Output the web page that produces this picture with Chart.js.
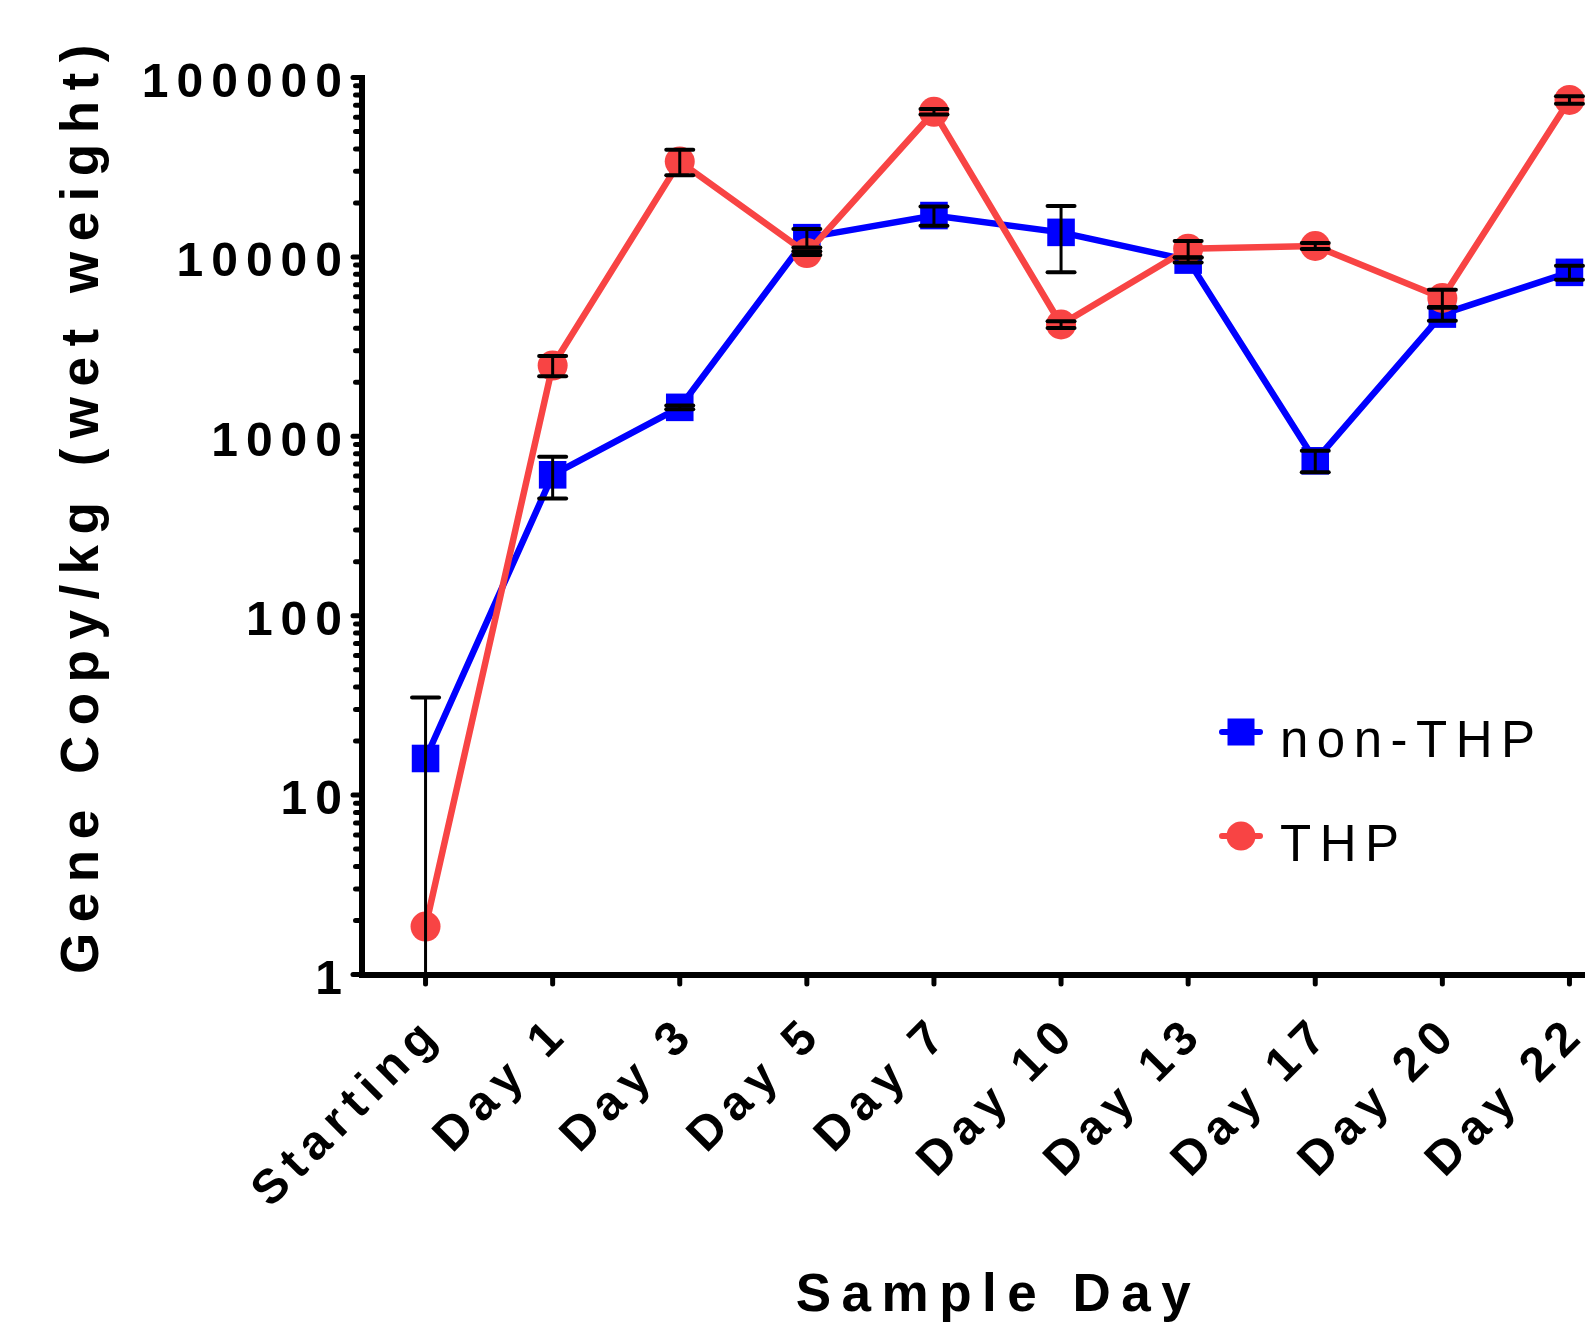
<!DOCTYPE html>
<html><head><meta charset="utf-8">
<script src="https://cdn.jsdelivr.net/npm/chart.js@4.4.0/dist/chart.umd.min.js"></script>
<style>
html,body{margin:0;padding:0;background:#fff;overflow:hidden;width:1585px;height:1325px}
canvas{display:block}
</style></head>
<body>
<canvas id="c" width="1700" height="1325" style="width:1700px;height:1325px"></canvas>
<script>
const categories = ["Starting","Day 1","Day 3","Day 5","Day 7","Day 10","Day 13","Day 17","Day 20","Day 22"];
const nonTHP    = [16, 610, 1450, 12800, 17000, 13700, 9600, 730, 4800, 8200];
const nonTHPErr = [19, 160, 35, 1500, 2100, 5500, 300, 100, 400, 730];
const THP       = [1.85, 2480, 34000, 10500, 64400, 4200, 11100, 11500, 5900, 75000];
const THPErr    = [0, 320, 5500, 250, 2300, 180, 1150, 440, 650, 3700];
const yTickLabels = ["1","10","100","1000","10000","100000"];
const seriesNames = ["non-THP","THP"];
const yTitle = "Gene Copy/kg (wet weight)";
const xTitle = "Sample Day";

const BLUE = "#0000FF", RED = "#F84444";
const majorVals = yTickLabels.map(Number);
const yTickVals = [];
majorVals.forEach((m, i) => {
  yTickVals.push(m);
  if (i < majorVals.length - 1) for (let k = 2; k <= 9; k++) yTickVals.push(m * k);
});
const errs = [nonTHPErr, THPErr];

const FONT = '"Liberation Sans", Arial, sans-serif';

const styling = {
  id: 'styling',
  beforeDraw(chart) { chart.ctx.letterSpacing = '8px'; },
  afterDatasetsDraw(chart) {
    const ctx = chart.ctx, ys = chart.scales.y, area = chart.chartArea;
    ctx.save();
    ctx.strokeStyle = '#000';
    [0, 1].forEach(d => {
      const meta = chart.getDatasetMeta(d);
      const data = chart.data.datasets[d].data;
      meta.data.forEach((pt, i) => {
        const v = data[i], e = errs[d][i];
        if (!e) return;
        const x = pt.x;
        const yHi = ys.getPixelForValue(v + e);
        const lo = v - e;
        const yLo = lo > 0 ? Math.min(ys.getPixelForValue(lo), area.bottom) : area.bottom;
        ctx.lineWidth = 3;
        ctx.lineCap = 'butt';
        ctx.beginPath(); ctx.moveTo(x, yHi); ctx.lineTo(x, yLo); ctx.stroke();
        ctx.lineWidth = 4;
        ctx.lineCap = 'round';
        ctx.beginPath(); ctx.moveTo(x - 13.5, yHi); ctx.lineTo(x + 13.5, yHi); ctx.stroke();
        if (lo > 0 && yLo < area.bottom) {
          ctx.beginPath(); ctx.moveTo(x - 13.5, yLo); ctx.lineTo(x + 13.5, yLo); ctx.stroke();
        }
      });
    });
    ctx.restore();
  },
  afterDraw(chart) {
    const ctx = chart.ctx, area = chart.chartArea;
    const ys = chart.scales.y, xs = chart.scales.x;
    ctx.save();
    // tick marks
    ctx.strokeStyle = '#000';
    ctx.lineCap = 'round';
    ctx.lineWidth = 5;
    ys.ticks.forEach(t => {
      const y = ys.getPixelForValue(t.value);
      const major = majorVals.indexOf(t.value) >= 0;
      ctx.beginPath(); ctx.moveTo(area.left - (major ? 9 : 6.5), y); ctx.lineTo(area.left, y); ctx.stroke();
    });
    xs.ticks.forEach((t, i) => {
      const x = xs.getPixelForTick(i);
      ctx.beginPath(); ctx.moveTo(x, area.bottom); ctx.lineTo(x, area.bottom + 9.5); ctx.stroke();
    });
    // axis titles
    ctx.fillStyle = '#000';
    ctx.font = 'bold 53px ' + FONT;
    ctx.letterSpacing = '10.5px';
    ctx.textAlign = 'center';
    ctx.textBaseline = 'alphabetic';
    ctx.fillText(xTitle, (area.left + area.right) / 2 + 1, 1311);
    ctx.save();
    ctx.translate(98, 504);
    ctx.rotate(-Math.PI / 2);
    ctx.fillText(yTitle, 0, 0);
    ctx.restore();
    // legend
    const legendY = [732, 836];
    const colors = [BLUE, RED];
    [0, 1].forEach(d => {
      const y = legendY[d];
      ctx.strokeStyle = colors[d];
      ctx.fillStyle = colors[d];
      ctx.lineWidth = 6;
      ctx.lineCap = 'round';
      ctx.beginPath(); ctx.moveTo(1222, y); ctx.lineTo(1260, y); ctx.stroke();
      if (d === 0) ctx.fillRect(1241 - 13.5, y - 13.5, 27, 27);
      else { ctx.beginPath(); ctx.arc(1241, y, 14.5, 0, Math.PI * 2); ctx.fill(); }
      ctx.fillStyle = '#000';
      ctx.font = 'normal 51px ' + FONT;
      ctx.letterSpacing = '8.5px';
      ctx.textAlign = 'left';
      ctx.fillText(chart.data.datasets[d].label, 1280, y + 25);
    });
    ctx.restore();
    ctx.letterSpacing = '0px';
  }
};

new Chart(document.getElementById('c'), {
  type: 'line',
  data: {
    labels: categories,
    datasets: [
      { label: seriesNames[0], data: nonTHP, borderColor: BLUE, backgroundColor: BLUE,
        borderWidth: 6.5, pointStyle: 'rect', pointRadius: 19.5, pointBorderWidth: 0,
        pointBackgroundColor: BLUE, order: 1, clip: false, tension: 0 },
      { label: seriesNames[1], data: THP, borderColor: RED, backgroundColor: RED,
        borderWidth: 6.5, pointStyle: 'circle', pointRadius: 15, pointBorderWidth: 0,
        pointBackgroundColor: RED, order: 0, clip: false, tension: 0 }
    ]
  },
  options: {
    responsive: false,
    animation: false,
    events: [],
    layout: { padding: { top: 77.5, right: 67, bottom: 0, left: 0 } },
    plugins: { legend: { display: false }, tooltip: { enabled: false }, title: { display: false } },
    scales: {
      x: {
        type: 'category',
        offset: true,
        grid: { display: false, drawTicks: false },
        border: { display: true, color: '#000', width: 6 },
        ticks: { color: '#000', font: { family: FONT, size: 48, weight: 'bold' },
                 minRotation: 45, maxRotation: 45, autoSkip: false, padding: 31, labelOffset: 9 },
        afterFit(scale) { scale.height = 350.5; }
      },
      y: {
        type: 'logarithmic',
        min: 1, max: 100000,
        grid: { display: false, drawTicks: false },
        border: { display: true, color: '#000', width: 6 },
        afterBuildTicks(scale) { scale.ticks = yTickVals.map(v => ({ value: v, major: majorVals.indexOf(v) >= 0 })); },
        ticks: {
          color: '#000', font: { family: FONT, size: 48, weight: 'bold' },
          autoSkip: false, padding: 12, labelOffset: 6,
          callback(value) { const i = majorVals.indexOf(value); return i >= 0 ? yTickLabels[i] : ''; }
        },
        afterFit(scale) { scale.width = 362; }
      }
    }
  },
  plugins: [styling]
});
</script>
</body></html>
